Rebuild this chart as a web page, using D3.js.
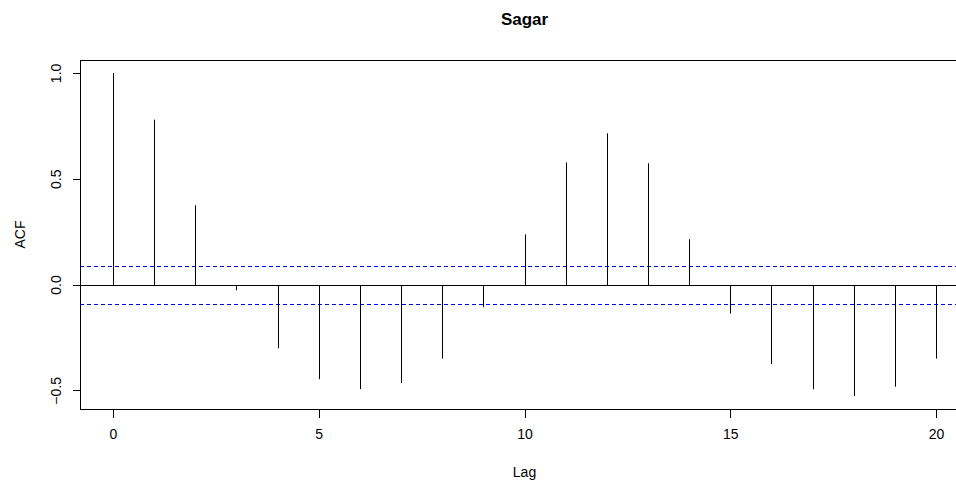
<!DOCTYPE html>
<meta charset="utf-8">
<style>
body { margin: 0; background: #fff; }
svg { display: block; font-family: "Liberation Sans", Arial, sans-serif; }
.axis text { font-size: 14px; fill: #000; }
.axis path, .axis line { stroke: #000; fill: none; shape-rendering: crispEdges; }
</style>
<body>
<svg></svg>
<script src="https://d3js.org/d3.v7.min.js"></script>
<script>

// ACF values, lags 0..20
var lags = d3.range(0, 21);
var acf = [1.0, 0.779, 0.375, -0.027, -0.301, -0.447, -0.494, -0.465, -0.350, -0.107,
           0.237, 0.577, 0.715, 0.573, 0.214, -0.137, -0.375, -0.495, -0.527, -0.483, -0.350];
var ci = 0.09;
var xTicks = [0, 5, 10, 15, 20];
var yTicks = [-0.5, 0.0, 0.5, 1.0];

var W = 956, H = 480;
var mLeft = 80, mRight = 969, mTop = 60, mBottom = 409;

var svg = d3.select("svg").attr("width", W).attr("height", H);

// R style: 4% extension of the data range
var x = d3.scaleLinear().domain([-0.8, 20.8]).range([mLeft, mRight]);
var yMin = d3.min(acf), yMax = 1.0, ext = (yMax - yMin) * 0.04;
var y = d3.scaleLinear().domain([yMin - ext, yMax + ext]).range([mBottom, mTop]);
var y0 = Math.round(y(0)) + 0.5;

// box
svg.append("rect")
    .attr("x", mLeft + 0.5).attr("y", mTop + 0.5)
    .attr("width", mRight - mLeft).attr("height", mBottom - mTop)
    .attr("fill", "none").attr("stroke", "#000");

// zero line
svg.append("line")
    .attr("x1", mLeft).attr("x2", mRight)
    .attr("y1", y0).attr("y2", y0)
    .attr("stroke", "#000");

// confidence bounds
[ci, -ci].forEach(function(v) {
  svg.append("line")
      .attr("x1", mLeft).attr("x2", mRight)
      .attr("y1", Math.round(y(v)) + 0.5).attr("y2", Math.round(y(v)) + 0.5)
      .attr("stroke", "#0000ff")
      .attr("stroke-dasharray", "4,3");
});

// spikes
svg.selectAll(".spike")
    .data(lags)
  .enter().append("line")
    .attr("class", "spike")
    .attr("x1", function(d) { return Math.round(x(d)) + 0.5; })
    .attr("x2", function(d) { return Math.round(x(d)) + 0.5; })
    .attr("y1", y0)
    .attr("y2", function(d, i) { return y(acf[i]); })
    .attr("stroke", "#000");

// axes
var xAxis = svg.append("g")
    .attr("class", "axis")
    .attr("transform", "translate(0," + (mBottom + 0.5) + ")")
    .call(d3.axisBottom(x).tickValues(xTicks).tickSize(8).tickPadding(12).tickFormat(d3.format("d")));
xAxis.select(".domain").remove();

var yAxis = svg.append("g")
    .attr("class", "axis")
    .attr("transform", "translate(" + (mLeft + 0.5) + ",0)")
    .call(d3.axisLeft(y).tickValues(yTicks).tickSize(8).tickFormat(d3.format(".1f")));
yAxis.select(".domain").remove();
yAxis.selectAll(".tick text")
    .attr("x", 0).attr("dy", 0)
    .attr("transform", "translate(-20,0) rotate(-90)")
    .attr("text-anchor", "middle");

// labels
svg.append("text")
    .attr("x", (mLeft + mRight) / 2).attr("y", 25)
    .attr("text-anchor", "middle")
    .style("font-size", "17px").style("font-weight", "bold")
    .text("Sagar");

svg.append("text")
    .attr("x", (mLeft + mRight) / 2).attr("y", 477)
    .attr("text-anchor", "middle")
    .style("font-size", "14px")
    .text("Lag");

svg.append("text")
    .attr("transform", "translate(25," + (mTop + mBottom) / 2 + ") rotate(-90)")
    .attr("text-anchor", "middle")
    .style("font-size", "14px")
    .text("ACF");

</script>
